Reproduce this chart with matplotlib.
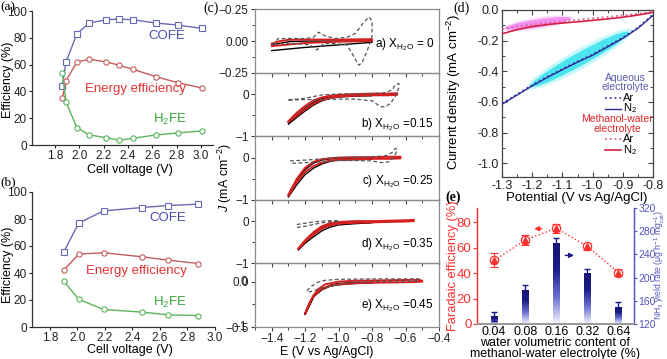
import numpy as np
import matplotlib
matplotlib.use('Agg')
import matplotlib.pyplot as plt
from matplotlib.patches import Ellipse
from matplotlib.transforms import ScaledTranslation
from matplotlib.colors import LinearSegmentedColormap
from matplotlib.ticker import MultipleLocator, FixedLocator

plt.rcParams['font.family'] = ['Liberation Sans', 'DejaVu Sans']
plt.rcParams['mathtext.fontset'] = 'custom'
plt.rcParams['mathtext.rm'] = 'Liberation Sans'
plt.rcParams['mathtext.it'] = 'Liberation Sans:italic'
plt.rcParams['axes.linewidth'] = 0.9

# (a) efficiency vs cell voltage
volt_a = [1.86, 1.89, 1.98, 2.08, 2.22, 2.33, 2.44, 2.63, 2.81, 3.01]
cofe_a = [44, 62, 83, 91, 93.5, 94, 93.5, 91, 89.5, 87]
energy_a = [35, 48, 62, 64, 62, 59.5, 56.5, 51, 46.5, 42.5]
h2fe_a = [54, 32, 13, 7.5, 5.5, 3.5, 5, 7.5, 9, 10.5]

# (b)
volt_b = [1.90, 2.01, 2.19, 2.47, 2.66, 2.88]
cofe_b = [55.5, 77, 86, 88.5, 90, 91]
energy_b = [42, 54, 55, 52, 49.5, 47]
h2fe_b = [34, 20.5, 13, 11, 9, 8.5]

# (c) cyclic voltammograms, one closed loop per curve
dash_a_E = [-1.40, -1.36, -1.30, -1.20, -1.15, -1.12, -1.08, -1.02, -0.95, -0.90, -0.86, -0.82, -0.80,
            -0.80, -0.83, -0.86, -0.88, -0.91, -0.95, -1.02, -1.09, -1.13, -1.17, -1.25, -1.35, -1.40]
dash_a_J = [-0.03, 0.02, 0.02, 0.02, 0.03, 0.07, 0.04, 0.02, 0.03, 0.06, 0.13, 0.19, 0.16,
            0.04, -0.08, -0.17, -0.19, -0.12, -0.03, -0.02, -0.02, -0.07, -0.03, -0.02, -0.02, -0.03]
black_a_E = [-1.40, -1.30, -1.20, -1.00, -0.80, -0.80, -1.00, -1.20, -1.40]
black_a_J = [-0.03, -0.005, 0.0, 0.0, 0.0, -0.01, -0.03, -0.05, -0.075]
red_a_E = [-1.40, -1.35, -1.30, -1.20, -1.00, -0.80, -0.80, -1.00, -1.20, -1.40]
red_a_J = [-0.02, 0.0, 0.01, 0.012, 0.012, 0.015, 0.0, -0.005, -0.015, -0.04]

dash_b_E = [-1.30, -1.25, -1.20, -1.15, -1.10, -1.00, -0.90, -0.80, -0.72, -0.68, -0.66, -0.64,
            -0.64, -0.66, -0.69, -0.72, -0.75, -0.80, -0.90, -1.00, -1.10, -1.20, -1.30]
dash_b_J = [-0.14, -0.12, -0.10, -0.06, -0.02, 0.0, 0.0, 0.01, 0.03, 0.10, 0.22, 0.25,
            0.15, -0.05, -0.22, -0.30, -0.30, -0.16, -0.12, -0.12, -0.13, -0.13, -0.14]
black_b_E = [-1.30, -1.25, -1.20, -1.15, -1.10, -1.05, -1.00, -0.90, -0.80,
             -0.80, -0.90, -1.00, -1.05, -1.10, -1.15, -1.20, -1.25, -1.30]
black_b_J = [-0.68, -0.49, -0.33, -0.20, -0.11, -0.06, -0.03, -0.02, -0.01,
             -0.04, -0.05, -0.07, -0.10, -0.16, -0.26, -0.40, -0.55, -0.71]
red_b_E = [-1.30, -1.25, -1.20, -1.15, -1.10, -1.05, -1.00, -0.90, -0.80, -0.70, -0.65,
           -0.65, -0.70, -0.80, -0.90, -1.00, -1.05, -1.10, -1.15, -1.20, -1.25, -1.30]
red_b_J = [-0.64, -0.44, -0.28, -0.15, -0.08, -0.04, -0.02, 0.0, 0.01, 0.01, 0.02,
           -0.02, -0.03, -0.03, -0.04, -0.06, -0.09, -0.14, -0.23, -0.36, -0.51, -0.66]

dash_c_E = [-1.29, -1.20, -1.10, -1.00, -0.90, -0.80, -0.72, -0.68, -0.66, -0.65,
            -0.67, -0.70, -0.74, -0.80, -0.90, -1.00, -1.10, -1.20, -1.29]
dash_c_J = [-0.08, -0.06, -0.03, 0.0, 0.0, 0.02, 0.04, 0.12, 0.22, 0.18,
            0.0, -0.10, -0.12, -0.08, -0.07, -0.07, -0.10, -0.12, -0.14]
black_c_E = [-1.30, -1.25, -1.20, -1.15, -1.10, -1.05, -1.00, -0.90, -0.80,
             -0.80, -0.90, -1.00, -1.05, -1.10, -1.15, -1.20, -1.25, -1.30]
black_c_J = [-0.90, -0.54, -0.28, -0.13, -0.06, -0.03, -0.02, -0.01, 0.0,
             -0.04, -0.05, -0.06, -0.09, -0.15, -0.25, -0.40, -0.64, -0.93]
red_c_E = [-1.30, -1.25, -1.20, -1.15, -1.10, -1.05, -1.00, -0.90, -0.80, -0.70, -0.63,
           -0.63, -0.70, -0.80, -0.90, -1.00, -1.05, -1.10, -1.15, -1.20, -1.25, -1.30]
red_c_J = [-0.87, -0.50, -0.24, -0.10, -0.04, -0.015, 0.0, 0.01, 0.01, 0.02, 0.02,
           -0.02, -0.03, -0.03, -0.04, -0.05, -0.07, -0.12, -0.20, -0.34, -0.58, -0.90]

dash_d_E = [-1.25, -1.20, -1.15, -1.10, -1.05, -1.00, -1.00, -1.05, -1.10, -1.15, -1.20, -1.25]
dash_d_J = [-0.08, -0.05, -0.02, 0.0, 0.01, 0.01, -0.01, -0.02, -0.04, -0.08, -0.12, -0.15]
black_d_E = [-1.24, -1.20, -1.15, -1.10, -1.05, -1.00, -0.90, -0.80,
             -0.80, -0.90, -1.00, -1.05, -1.10, -1.15, -1.20, -1.24]
black_d_J = [-0.66, -0.48, -0.30, -0.16, -0.08, -0.04, -0.02, -0.01,
             -0.04, -0.06, -0.09, -0.14, -0.23, -0.37, -0.52, -0.68]
red_d_E = [-1.24, -1.20, -1.15, -1.10, -1.05, -1.00, -0.90, -0.80, -0.70, -0.60, -0.55,
           -0.55, -0.60, -0.70, -0.80, -0.90, -1.00, -1.05, -1.10, -1.15, -1.20, -1.24]
red_d_J = [-0.64, -0.45, -0.26, -0.12, -0.05, -0.02, 0.0, 0.0, 0.01, 0.02, 0.03,
           0.0, -0.01, -0.02, -0.03, -0.04, -0.06, -0.10, -0.18, -0.32, -0.48, -0.66]

dash_e_E = [-1.19, -1.16, -1.13, -1.08, -1.00, -0.80, -0.60, -0.52,
            -0.52, -0.60, -0.80, -0.95, -1.05, -1.10, -1.15, -1.19]
dash_e_J = [-0.10, -0.05, -0.01, 0.015, 0.025, 0.03, 0.03, 0.03,
            0.01, 0.005, 0.0, -0.01, -0.05, -0.07, -0.10, -0.12]
black_e_E = [-1.20, -1.15, -1.10, -1.05, -1.00, -0.90, -0.80,
             -0.80, -0.90, -1.00, -1.05, -1.10, -1.15, -1.20]
black_e_J = [-0.36, -0.17, -0.08, -0.04, -0.02, -0.01, -0.005,
             -0.015, -0.02, -0.035, -0.05, -0.09, -0.16, -0.36]
red_e_E = [-1.20, -1.18, -1.15, -1.12, -1.08, -1.00, -0.90, -0.80, -0.70, -0.60, -0.52, -0.50,
           -0.50, -0.55, -0.70, -0.80, -0.90, -1.00, -1.05, -1.10, -1.14, -1.17, -1.20]
red_e_J = [-0.35, -0.26, -0.15, -0.08, -0.03, 0.0, 0.01, 0.012, 0.015, 0.018, 0.02, 0.01,
           0.0, -0.005, -0.01, -0.012, -0.018, -0.03, -0.045, -0.08, -0.14, -0.22, -0.35]

cv_labels = ['a) X$_{\\rm H_2O}$ = 0', 'b) X$_{\\rm H_2O}$ =0.15', 'c) X$_{\\rm H_2O}$ =0.25',
             'd) X$_{\\rm H_2O}$ =0.35', 'e) X$_{\\rm H_2O}$ =0.45']

# (d) LSV
pot_d = [-1.30, -1.25, -1.20, -1.15, -1.10, -1.05, -1.00, -0.95, -0.90, -0.85, -0.80]
aq_n2 = [-0.615, -0.555, -0.495, -0.44, -0.39, -0.34, -0.295, -0.24, -0.185, -0.12, -0.035]
aq_ar = [-0.61, -0.55, -0.49, -0.435, -0.385, -0.335, -0.29, -0.235, -0.18, -0.115, -0.03]
mw_n2 = [-0.155, -0.128, -0.108, -0.095, -0.085, -0.077, -0.068, -0.058, -0.047, -0.033, -0.015]
mw_ar = [-0.125, -0.108, -0.094, -0.083, -0.073, -0.064, -0.055, -0.045, -0.035, -0.024, -0.012]

# (e) faradaic efficiency and NH3 yield
water = ['0.04', '0.08', '0.16', '0.32', '0.64']
fe = [50, 66, 75.5, 61, 40.5]
fe_err = [5.5, 4, 3.5, 3, 3]
nh3 = [133, 179, 260, 208, 150]
nh3_err = [7, 9, 8, 7, 8]

W, H = 667, 359
fig = plt.figure(figsize=(W / 100, H / 100), dpi=100)
narrow = ['Liberation Sans Narrow', 'Liberation Sans', 'DejaVu Sans']


def box(l, t, r, b):
    return [l / W, 1 - b / H, (r - l) / W, (b - t) / H]


def ftext(x, y, s, **kw):
    fig.text(x / W, 1 - y / H, s, **kw)


c_cofe, c_cofe_t = '#6a6ab4', '#4a4ab0'
c_en, c_en_t = '#c45c5c', '#e03434'
c_h2, c_h2_t = '#5cb45c', '#34a534'


def eff_panel(ax, volt, cofe, energy, h2fe, xlim, pos_cofe, pos_en, pos_h2):
    ax.plot(volt, cofe, '-', color=c_cofe, lw=1, marker='s', ms=3.8, mfc='white', mec=c_cofe, mew=0.8)
    ax.plot(volt, energy, '-', color=c_en, lw=1, marker='o', ms=3.8, mfc='white', mec=c_en, mew=0.8)
    ax.plot(volt, h2fe, '-', color=c_h2, lw=1, marker='o', ms=3.8, mfc='white', mec=c_h2, mew=0.8)
    ax.set_xlim(*xlim)
    ax.set_ylim(0, 100)
    ax.xaxis.set_major_locator(MultipleLocator(0.2))
    ax.yaxis.set_major_locator(MultipleLocator(20))
    ax.xaxis.set_major_formatter(plt.FormatStrFormatter('%.1f'))
    for s in ['top', 'right']:
        ax.spines[s].set_visible(False)
    for s in ['left', 'bottom']:
        ax.spines[s].set_color('#333333')
    ax.tick_params(direction='out', length=2.5, width=0.8, labelsize=8.5, pad=1.2, colors='#222222')
    for lab in ax.get_xticklabels() + ax.get_yticklabels():
        lab.set_family(narrow)
    ax.text(*pos_cofe, 'COFE', color=c_cofe_t, fontsize=9.5, ha='center', va='center')
    ax.text(*pos_en, 'Energy efficiency', color=c_en_t, fontsize=9.5, ha='center', va='center')
    ax.text(*pos_h2, 'H$_2$FE', color=c_h2_t, fontsize=9.5, ha='center', va='center')


ax_a = fig.add_axes(box(32, 11, 213, 145))
eff_panel(ax_a, volt_a, cofe_a, energy_a, h2fe_a, (1.61, 3.10), (2.72, 81), (2.46, 42), (2.745, 19))
ftext(130, 170, 'Cell voltage (V)', fontsize=9, ha='center', va='center')
ftext(8, 80, 'Efficiency (%)', fontsize=9, ha='center', va='center', rotation=90)

ax_b = fig.add_axes(box(32, 192, 215, 327))
eff_panel(ax_b, volt_b, cofe_b, energy_b, h2fe_b, (1.67, 3.0), (2.66, 81), (2.43, 41.5), (2.67, 18.5))
ftext(130, 350, 'Cell voltage (V)', fontsize=9, ha='center', va='center')
ftext(8, 265, 'Efficiency (%)', fontsize=9, ha='center', va='center', rotation=90)

# (c) stacked CV panels
cv_sets = [(dash_a_E, dash_a_J, black_a_E, black_a_J, red_a_E, red_a_J),
           (dash_b_E, dash_b_J, black_b_E, black_b_J, red_b_E, red_b_J),
           (dash_c_E, dash_c_J, black_c_E, black_c_J, red_c_E, red_c_J),
           (dash_d_E, dash_d_J, black_d_E, black_d_J, red_d_E, red_d_J),
           (dash_e_E, dash_e_J, black_e_E, black_e_J, red_e_E, red_e_J)]
cv_ylims = [(-0.25, 0.25), (-1, 0.5), (-1, 0.5), (-1, 0.5), (-0.5, 0.2)]
label_pos = [(0.652, 0.44, 'left'), (0.969, 0.19, 'right'), (0.969, 0.29, 'right'),
             (0.969, 0.30, 'right'), (0.969, 0.33, 'right')]
row_h = (327 - 9.3) / 5
for i, (dE, dJ, bE, bJ, rE, rJ) in enumerate(cv_sets):
    top = 9.3 + row_h * i
    ax = fig.add_axes(box(255, top, 439, top + row_h))
    ax.set_facecolor('none')
    ax.plot(bE, bJ, '-', color='black', lw=1.0, zorder=2)
    ax.plot(rE, rJ, '-', color='#d42020', lw=1.4, zorder=3)
    ax.plot(dE, dJ, '--', color='#555555', lw=0.9, dashes=(3, 2), zorder=4)
    ax.set_xlim(-1.5, -0.4)
    ax.set_ylim(*cv_ylims[i])
    ax.xaxis.set_major_locator(MultipleLocator(0.2))
    ax.xaxis.set_minor_locator(MultipleLocator(0.1))
    for s in ax.spines.values():
        s.set_color('#8a8a8a')
    ax.tick_params(which='both', direction='out', colors='#444444', labelsize=8.5, pad=1.5)
    ax.tick_params(which='major', length=3, width=0.8)
    ax.tick_params(which='minor', length=2, width=0.7)
    ax.tick_params(axis='y', labelcolor='#222222')
    if i == 0:
        ax.yaxis.set_major_locator(FixedLocator([-0.25, 0, 0.25]))
        ax.set_yticklabels(['\u22120.25', '0.00', '\u22120.25'])
        ax.yaxis.set_minor_locator(FixedLocator([-0.125, 0.125]))
    elif i < 4:
        ax.yaxis.set_major_locator(FixedLocator([-1, 0]))
        ax.set_yticklabels(['\u22121', '0'])
        ax.yaxis.set_minor_locator(FixedLocator([-0.5]))
    else:
        ax.yaxis.set_major_locator(FixedLocator([-0.5, 0]))
        ax.set_yticklabels(['\u22120.5', '0.0'])
        ax.yaxis.set_minor_locator(FixedLocator([-0.25]))
        # the source figure prints the stacked panels' labels over these two
        ytr = ax.get_yaxis_transform()
        ax.text(-0.045, 0, '0', transform=ytr, ha='right', va='center', fontsize=8.5, color='#222222')
        ax.text(-0.045, -0.5, '\u22121', transform=ytr, ha='right', va='center', fontsize=8.5, color='#222222')
    if i < 4:
        ax.tick_params(axis='x', labelbottom=False)
    else:
        ax.tick_params(axis='x', labelcolor='#222222')
    lx, ly, ha = label_pos[i]
    ax.text(lx, ly, cv_labels[i], transform=ax.transAxes, ha=ha, va='center', fontsize=8.5)
ftext(327, 352, 'E (V vs Ag/AgCl)', fontsize=9, ha='center', va='center')
ftext(225, 178, '$J$ (mA cm$^{-2}$)', fontsize=9, ha='center', va='center', rotation=90)

# (d) LSV curves
ax_d = fig.add_axes(box(502, 10, 653, 177))


def glow(ax, cx, cy, w, h, ang, color, alpha):
    tr = fig.dpi_scale_trans + ScaledTranslation(cx, cy, ax.transData)
    ax.add_patch(Ellipse((0, 0), w * 1.08, h * 1.5, angle=ang, transform=tr, color=color,
                         alpha=alpha * 0.3, lw=0, zorder=1))
    ax.add_patch(Ellipse((0, 0), w, h, angle=ang, transform=tr, color=color, alpha=alpha, lw=0, zorder=1))


ax_d.set_xlim(-1.3, -0.8)
ax_d.set_ylim(-1.09, 0.0)
glow(ax_d, -1.043, -0.322, 1.12, 0.13, 29, '#3ee4ee', 0.9)
glow(ax_d, -1.181, -0.087, 0.66, 0.08, 8.7, '#f27cf0', 0.8)
ax_d.plot(pot_d, mw_ar, ':', color='#e0609a', lw=1.3, zorder=3)
ax_d.plot(pot_d, mw_n2, '-', color='#d42040', lw=1.2, zorder=3)
ax_d.plot(pot_d, aq_ar, ':', color='#4040a8', lw=1.3, zorder=3)
ax_d.plot(pot_d, aq_n2, '-', color='#2c2c98', lw=1.0, zorder=3)
ax_d.xaxis.set_major_locator(MultipleLocator(0.1))
ax_d.xaxis.set_minor_locator(MultipleLocator(0.05))
ax_d.yaxis.set_major_locator(MultipleLocator(0.2))
ax_d.yaxis.set_minor_locator(MultipleLocator(0.1))
ax_d.xaxis.set_major_formatter(plt.FormatStrFormatter('%.1f'))
ax_d.yaxis.set_major_formatter(plt.FormatStrFormatter('%.1f'))
for s in ax_d.spines.values():
    s.set_color('#444444')
ax_d.tick_params(which='both', direction='in', top=True, right=True, colors='#444444',
                 labelcolor='#222222', labelsize=9, pad=2)
ax_d.tick_params(which='major', length=3.5, width=0.8)
ax_d.tick_params(which='minor', length=2, width=0.7)
ta = ax_d.transAxes
ax_d.text(0.817, 0.592, 'Aqueous', color='#5a5aaa', fontsize=7.5, ha='center', va='center', transform=ta)
ax_d.text(0.817, 0.537, 'electrolyte', color='#5a5aaa', fontsize=7.5, ha='center', va='center', transform=ta)
ax_d.plot([0.68, 0.785], [0.476, 0.476], ':', color='#4040a8', lw=1.3, transform=ta)
ax_d.plot([0.68, 0.785], [0.41, 0.41], '-', color='#2c2c98', lw=1.0, transform=ta)
ax_d.text(0.80, 0.476, 'Ar', fontsize=8, ha='left', va='center', transform=ta)
ax_d.text(0.80, 0.41, 'N$_2$', fontsize=8, ha='left', va='center', transform=ta)
ax_d.text(0.764, 0.345, 'Methanol-water', color='#e02828', fontsize=7.5, ha='center', va='center', transform=ta)
ax_d.text(0.764, 0.29, 'electrolyte', color='#e02828', fontsize=7.5, ha='center', va='center', transform=ta)
ax_d.plot([0.68, 0.785], [0.226, 0.226], ':', color='#e0609a', lw=1.3, transform=ta)
ax_d.plot([0.68, 0.785], [0.16, 0.16], '-', color='#d42040', lw=1.2, transform=ta)
ax_d.text(0.80, 0.226, 'Ar', fontsize=8, ha='left', va='center', transform=ta)
ax_d.text(0.80, 0.16, 'N$_2$', fontsize=8, ha='left', va='center', transform=ta)
ftext(577, 198, 'Potential (V vs Ag/AgCl)', fontsize=9.5, ha='center', va='center')
ftext(454, 92, 'Current density (mA cm$^{-2}$)', fontsize=9.5, ha='center', va='center', rotation=90)

# (e) faradaic efficiency + NH3 yield rate
red = '#ff3030'
navy = '#1a1a86'
blue_t = '#5555c0'
ax_e = fig.add_axes(box(477, 208, 634, 324))
ax_e2 = ax_e.twinx()
xpos = np.arange(len(water))
bar_cmap = LinearSegmentedColormap.from_list('fade', ['#f4f5ff', '#6a70d0', '#1c1c8a', '#14146c'])
bars = ax_e2.bar(xpos, np.array(nh3) - 120, bottom=120, width=0.2, color='none', edgecolor='none')
grad = np.linspace(0, 1, 128).reshape(-1, 1)
for b in bars:
    im = ax_e2.imshow(grad, extent=[b.get_x(), b.get_x() + b.get_width(), b.get_y(), b.get_y() + b.get_height()],
                      origin='lower', aspect='auto', cmap=bar_cmap, zorder=2)
    im.set_clip_path(b)
ax_e2.errorbar(xpos, nh3, yerr=nh3_err, fmt='none', ecolor=navy, elinewidth=1, capsize=2, capthick=1, zorder=3)
ax_e.errorbar(xpos, fe, yerr=fe_err, fmt='none', ecolor=red, elinewidth=0.8, capsize=3, capthick=0.8)
ax_e.plot(xpos, fe, ':', color=red, lw=1)
ax_e.plot(xpos, fe, 'o', ms=6, mfc='white', mec=red, mew=0.9)
ax_e.plot(xpos, fe, '^', ms=4.5, color=red)
ax_e.annotate('', xy=(1.2, 75), xytext=(1.62, 75),
              arrowprops=dict(arrowstyle='-|>', color=red, lw=1, mutation_scale=7))
ax_e.annotate('', xy=(2.66, 54), xytext=(2.2, 54),
              arrowprops=dict(arrowstyle='-|>', color=navy, lw=1, mutation_scale=7))
ax_e.set_xlim(-0.55, 4.5)
ax_e.set_ylim(0, 91.3)
ax_e2.set_ylim(120, 320)
ax_e2.set_xlim(-0.55, 4.5)
ax_e.set_xticks(xpos)
ax_e.set_xticklabels(water)
ax_e.yaxis.set_major_locator(MultipleLocator(20))
ax_e2.yaxis.set_major_locator(MultipleLocator(40))
for a in (ax_e, ax_e2):
    a.spines['top'].set_visible(False)
    a.spines['left'].set_color(red)
    a.spines['right'].set_color(blue_t)
    a.spines['bottom'].set_color('#999999')
    a.spines['bottom'].set_linewidth(1.4)
ax_e.tick_params(axis='y', colors=red, labelsize=9.5, length=3, width=0.8, pad=1)
ax_e.tick_params(axis='x', labelsize=9, length=0, pad=1.5)
ax_e2.tick_params(axis='y', colors=blue_t, labelsize=7.5, length=2.5, width=0.8, pad=0.5)
for lab in ax_e2.get_yticklabels():
    lab.set_family(narrow)
ftext(453, 266, 'Faradaic efficiency (%)', fontsize=9.3, color=red, ha='center', va='center', rotation=90)
ftext(659.5, 265, 'NH$_3$ yield rate (\u03bcg h$^{-1}$ mg$_{\\rm cat}^{-1}$)', fontsize=6.2, color=blue_t,
      ha='center', va='center', rotation=90)
ftext(555, 343, 'water volumetric content of', fontsize=9, ha='center', va='center')
ftext(555, 354, 'methanol-water electrolyte (%)', fontsize=9, ha='center', va='center')

# panel letters
serif = 'Liberation Serif'
ftext(0, 7, '(a)', family=serif, fontsize=9.5, va='center')
ftext(0, 182, '(b)', family=serif, fontsize=9.5, va='center')
ftext(203, 8, '(c)', family=serif, fontsize=10, va='center')
ftext(453, 8, '(d)', family=serif, fontsize=10, va='center')
ftext(445, 197, '(e)', family=serif, fontsize=10, va='center', weight='bold')

fig.savefig('out.png', dpi=100)
